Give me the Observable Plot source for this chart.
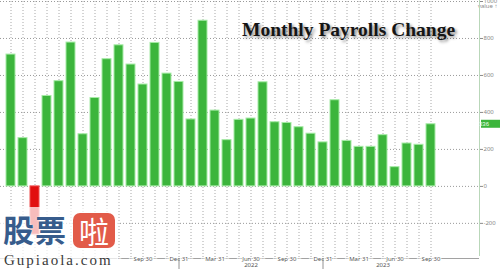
<!DOCTYPE html>
<html><head><meta charset="utf-8">
<script src="https://cdn.jsdelivr.net/npm/d3@7"></script>
<script src="https://cdn.jsdelivr.net/npm/@observablehq/plot@0.6"></script>
<style>
body{margin:0;background:#fff;}
#wrap{position:relative;width:500px;height:269px;overflow:hidden;background:#fff;}
#title{position:absolute;left:242px;top:20px;font:bold 19.5px/1 "Liberation Serif",serif;color:#151515;text-shadow:2px 2px 3px rgba(0,0,0,0.45);white-space:nowrap;}
#wm{position:absolute;left:0;top:207px;width:118px;height:60px;background:rgba(255,255,255,0.72);}
.cj{position:absolute;font:bold 31px/1 "Noto Sans CJK SC",sans-serif;color:#375c8c;text-shadow:0 0 2px #fff;}
#la{position:absolute;left:73px;top:6px;width:42px;height:35px;border-radius:7px;background:#e25b49;color:#fff;font:30px/35px "Noto Sans CJK SC",sans-serif;text-align:center;}
#gp{position:absolute;left:4px;top:46px;font:15px/1 "Liberation Serif",serif;letter-spacing:2px;color:#3a3a3a;}
</style></head><body>
<div id="wrap"></div>
<script>
const months = ["2020-10","2020-11","2020-12","2021-01","2021-02","2021-03","2021-04","2021-05","2021-06","2021-07","2021-08","2021-09","2021-10","2021-11","2021-12","2022-01","2022-02","2022-03","2022-04","2022-05","2022-06","2022-07","2022-08","2022-09","2022-10","2022-11","2022-12","2023-01","2023-02","2023-03","2023-04","2023-05","2023-06","2023-07","2023-08","2023-09"];
const payrolls = [713,261,-260,489,569,778,282,478,688,763,659,551,776,610,565,362,896,410,250,360,367,563,347,343,320,285,238,466,246,214,214,277,104,232,225,336];
// tick labels visible to the right of the watermark
const quarterTicks = ["2021-09","2021-12","2022-03","2022-06","2022-09","2022-12","2023-03","2023-06","2023-09"];
const quarterLabels = ["Sep 30","Dec 31","Mar 31","Jun 30","Sep 30","Dec 31","Mar 31","Jun 30","Sep 30"];
const minorTicks = ["2021-07","2021-08","2021-10","2021-11","2022-01","2022-02","2022-04","2022-05","2022-07","2022-08","2022-10","2022-11","2023-01","2023-02","2023-04","2023-05","2023-07","2023-08"];
const yearTicks = ["2022-06","2023-05"];
const yearLabels = ["2022","2023"];
const yearBreaks = ["2021-12","2022-12"];
const yTicks = [-200,0,200,400,600,800,1000];
const lastValue = [336];
const titleText = "Monthly Payrolls Change";

const data = months.map((m,i)=>({month:m, value:payrolls[i]}));

const W = 500, H = 269, MR = 21, MB = 11, MT = 1;
const chart = Plot.plot({
  width: W, height: H,
  marginLeft: 0, marginRight: MR, marginTop: MT, marginBottom: MB,
  style: {background: "white", overflow: "visible"},
  x: {type: "band", domain: months, paddingInner: 0.25, paddingOuter: 0.79, align: 0.118, axis: null},
  y: {domain: [-390, 1000], axis: null},
  marks: [
    Plot.gridY(yTicks, {stroke: "#9a9a9a", strokeOpacity: 1, strokeDasharray: "1,2"}),
    Plot.gridX(months, {stroke: "#a8a8a8", strokeOpacity: 1, strokeDasharray: "1,2"}),
    Plot.ruleY([-390], {stroke: "#8a8a8a", strokeWidth: 0.8}),
    Plot.barY(data, {x: "month", y: "value",
      fill: d => d.value < 0 ? "#e10f0f" : "#3cb53c",
      stroke: d => d.value < 0 ? "#f05050" : "#a6eba6", strokeWidth: 1}),
    Plot.axisY(yTicks, {anchor: "right", tickSize: 3, tickPadding: 1, fontSize: 6, color: "#8a8a8a", tickFormat: d => String(d)}),
    Plot.text(minorTicks, {x: d => d, text: () => "..", frameAnchor: "bottom", dy: 0, fontSize: 6, fill: "#777", stroke: "white", strokeWidth: 1.5}),
    Plot.text(quarterTicks, {x: d => d, text: (d,i) => quarterLabels[i], frameAnchor: "bottom", dy: 2, fontSize: 6, fill: "#555", stroke: "white", strokeWidth: 2}),
    Plot.text(yearTicks, {x: d => d, text: (d,i) => yearLabels[i], frameAnchor: "bottom", dy: 8.5, fontSize: 6, fill: "#555"}),
    Plot.ruleX(yearBreaks, {x: d => d, y1: -390, y2: -470, stroke: "#777", strokeWidth: 0.8})
  ]
});

const svg = d3.select(chart);
const ys = chart.scale("y");
svg.append("line").attr("x1", W - MR + 0.5).attr("x2", W - MR + 0.5).attr("y1", 0).attr("y2", H - MB - 2)
  .attr("stroke", "#b9d7b9").attr("stroke-width", 1);
lastValue.forEach(v => {
  const yy = ys.apply(v);
  svg.append("rect").attr("x", W - MR + 2).attr("y", yy - 4).attr("width", 19).attr("height", 8).attr("fill", "#3cb53c");
  svg.append("text").attr("x", W - MR + 5).attr("y", yy).attr("dy", "0.35em").attr("font-size", 6)
    .attr("font-family", "sans-serif").attr("fill", "#eaffea").text(String(v));
});

const wrap = document.getElementById("wrap");
wrap.appendChild(chart);
const t = document.createElement("div"); t.id = "title"; t.textContent = titleText; wrap.appendChild(t);
const wm = document.createElement("div"); wm.id = "wm";
wm.innerHTML = '<span class="cj" style="left:3px;top:6px">股</span><span class="cj" style="left:35px;top:6px">票</span><div id="la">啦</div><div id="gp">Gupiaola.com</div>';
wrap.appendChild(wm);
</script>
</body></html>
